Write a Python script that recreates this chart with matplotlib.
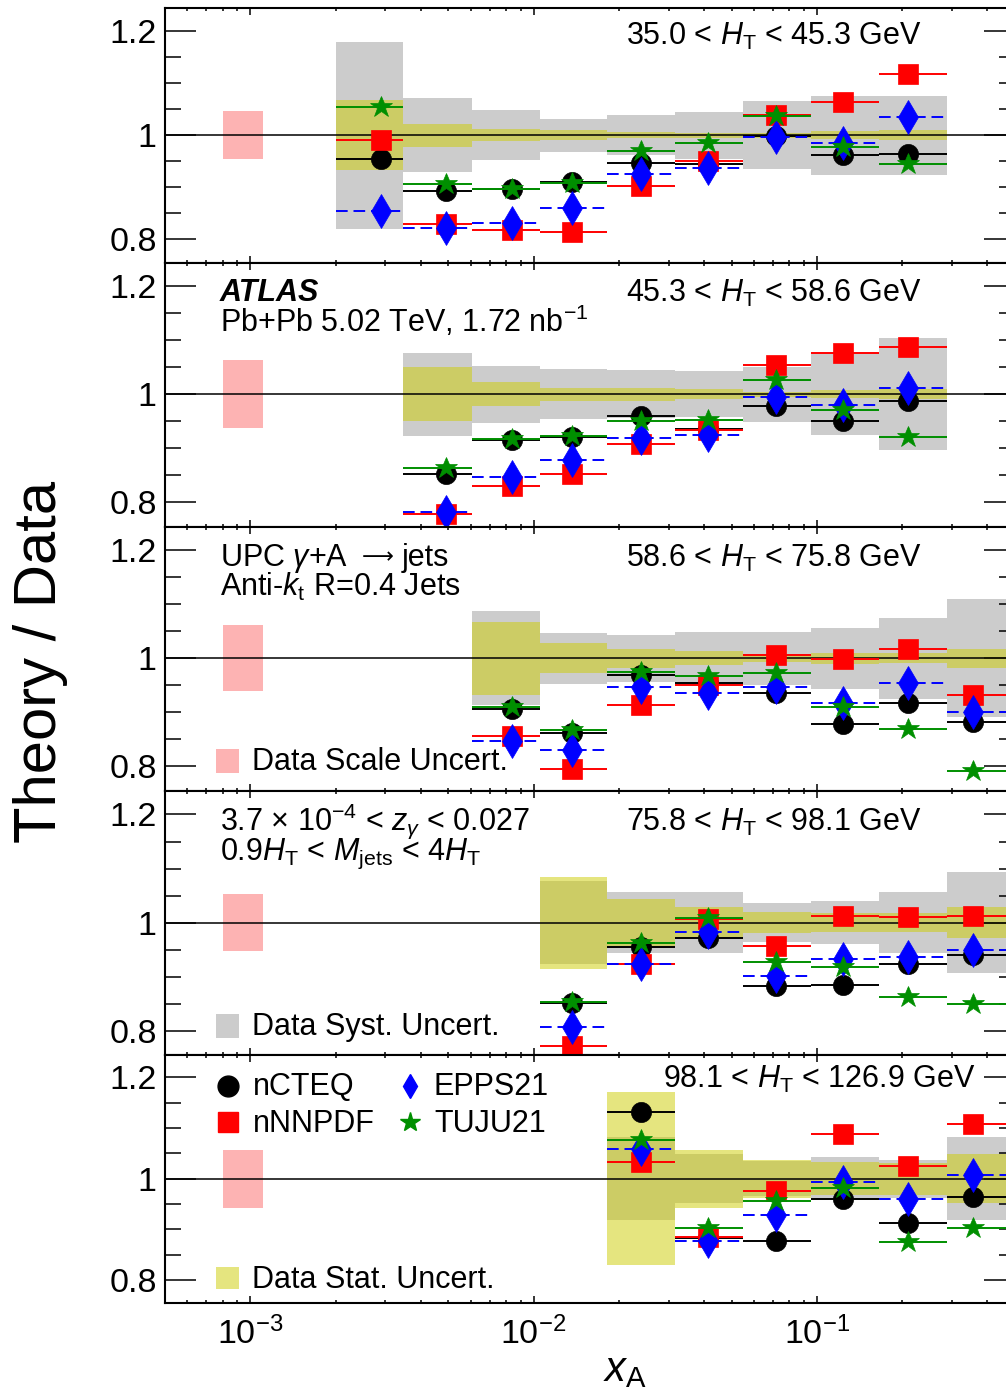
import numpy as np
import matplotlib
matplotlib.use("Agg")
import matplotlib.pyplot as plt
from matplotlib.patches import Rectangle
from matplotlib.lines import Line2D
from matplotlib.ticker import LogLocator, NullFormatter, FixedLocator, FixedFormatter, MultipleLocator

plt.rcParams['font.family'] = ['Liberation Sans', 'DejaVu Sans']
plt.rcParams['mathtext.fontset'] = 'custom'
plt.rcParams['mathtext.rm'] = 'Liberation Sans'
plt.rcParams['mathtext.it'] = 'Liberation Sans:italic'
plt.rcParams['mathtext.bf'] = 'Liberation Sans:bold'
plt.rcParams['mathtext.sf'] = 'Liberation Sans'

nan = np.nan

# ---------------- data ----------------
bin_edges = [0.002, 0.00347, 0.00604, 0.0105, 0.0182, 0.0317, 0.0550, 0.0956, 0.166, 0.288, 0.5]
xA = [0.0029, 0.0049, 0.0084, 0.0137, 0.0239, 0.0412, 0.0716, 0.124, 0.210, 0.356]

ht_labels = [r"35.0 < $H_{\mathrm{T}}$ < 45.3 GeV",
             r"45.3 < $H_{\mathrm{T}}$ < 58.6 GeV",
             r"58.6 < $H_{\mathrm{T}}$ < 75.8 GeV",
             r"75.8 < $H_{\mathrm{T}}$ < 98.1 GeV",
             r"98.1 < $H_{\mathrm{T}}$ < 126.9 GeV"]

nCTEQ_1 = [0.955, 0.893, 0.896, 0.910, 0.947, 0.944, 0.999, 0.962, 0.963, nan]
nNNPDF_1 = [0.991, 0.830, 0.818, 0.8135, 0.903, 0.951, 1.039, 1.063, 1.117, nan]
EPPS21_1 = [0.855, 0.822, 0.8315, 0.860, 0.926, 0.937, 0.996, 0.985, 1.034, nan]
TUJU21_1 = [1.054, 0.9065, 0.897, 0.907, 0.969, 0.985, 1.036, 0.977, 0.944, nan]
stat_1 = [0.067, 0.022, 0.012, 0.010, 0.006, 0.005, 0.005, 0.008, 0.009, nan]
syst_1 = [0.180, 0.071, 0.048, 0.032, 0.038, 0.045, 0.065, 0.076, 0.076, nan]

nCTEQ_2 = [nan, 0.853, 0.916, 0.921, 0.960, 0.935, 0.978, 0.950, 0.988, nan]
nNNPDF_2 = [nan, 0.778, 0.830, 0.853, 0.908, 0.934, 1.054, 1.076, 1.087, nan]
EPPS21_2 = [nan, 0.782, 0.846, 0.878, 0.919, 0.924, 0.995, 0.980, 1.011, nan]
TUJU21_2 = [nan, 0.864, 0.917, 0.923, 0.951, 0.953, 1.027, 0.970, 0.920, nan]
stat_2 = [nan, 0.050, 0.022, 0.012, 0.012, 0.009, 0.005, 0.007, 0.009, nan]
syst_2 = [nan, 0.077, 0.053, 0.046, 0.044, 0.043, 0.051, 0.075, 0.104, nan]

nCTEQ_3 = [nan, nan, 0.907, 0.862, 0.969, 0.955, 0.936, 0.878, 0.918, 0.8815]
nNNPDF_3 = [nan, nan, 0.856, 0.796, 0.913, 0.9515, 1.0055, 0.998, 1.017, 0.932]
EPPS21_3 = [nan, nan, 0.847, 0.830, 0.9466, 0.9355, 0.9466, 0.9165, 0.954, 0.900]
TUJU21_3 = [nan, nan, 0.910, 0.867, 0.9755, 0.967, 0.973, 0.909, 0.870, 0.791]
stat_3 = [nan, nan, 0.067, 0.028, 0.018, 0.013, 0.007, 0.010, 0.009, 0.018]
syst_3 = [nan, nan, 0.087, 0.047, 0.043, 0.049, 0.049, 0.057, 0.075, 0.109]

nCTEQ_4 = [nan, nan, nan, 0.851, 0.9557, 0.971, 0.882, 0.885, 0.923, 0.940]
nNNPDF_4 = [nan, nan, nan, 0.772, 0.923, 1.006, 0.956, 1.012, 1.010, 1.012]
EPPS21_4 = [nan, nan, nan, 0.807, 0.924, 0.983, 0.901, 0.9335, 0.9365, 0.949]
TUJU21_4 = [nan, nan, nan, 0.853, 0.963, 1.009, 0.927, 0.917, 0.862, 0.849]
stat_4 = [nan, nan, nan, 0.085, 0.044, 0.028, 0.019, 0.018, 0.018, 0.029]
syst_4 = [nan, nan, nan, 0.077, 0.057, 0.0566, 0.036, 0.040, 0.056, 0.094]

nCTEQ_5 = [nan, nan, nan, nan, 1.131, 0.884, 0.878, 0.960, 0.912, 0.964]
nNNPDF_5 = [nan, nan, nan, nan, 1.033, 0.886, 0.976, 1.089, 1.026, 1.1075]
EPPS21_5 = [nan, nan, nan, nan, 1.058, 0.877, 0.929, 0.993, 0.960, 1.007]
TUJU21_5 = [nan, nan, nan, nan, 1.077, 0.902, 0.956, 0.9816, 0.875, 0.903]
stat_5 = [nan, nan, nan, nan, 0.171, 0.057, 0.037, 0.033, 0.032, 0.048]
syst_5 = [nan, nan, nan, nan, 0.082, 0.048, 0.035, 0.042, 0.037, 0.082]

scale_unc = [0.046, 0.0625, 0.061, 0.053, 0.057]
scale_box_x = [8.0e-4, 1.11e-3]

nCTEQ = [nCTEQ_1, nCTEQ_2, nCTEQ_3, nCTEQ_4, nCTEQ_5]
nNNPDF = [nNNPDF_1, nNNPDF_2, nNNPDF_3, nNNPDF_4, nNNPDF_5]
EPPS21 = [EPPS21_1, EPPS21_2, EPPS21_3, EPPS21_4, EPPS21_5]
TUJU21 = [TUJU21_1, TUJU21_2, TUJU21_3, TUJU21_4, TUJU21_5]
stat = [stat_1, stat_2, stat_3, stat_4, stat_5]
syst = [syst_1, syst_2, syst_3, syst_4, syst_5]

# ---------------- styles ----------------
W, H = 1006, 1397
fig = plt.figure(figsize=(W / 100, H / 100), dpi=100)

def fx(px):
    return px / W

def fy(py):
    return 1 - py / H

panel_px = [(8.3, 262.5), (262.5, 526.5), (526.5, 790.7), (790.7, 1055.0), (1055.0, 1303.0)]
ht_pos = [(626, 45), (626, 301.7), (626, 566.7), (626, 830.7), (663, 1088.3)]

GRAY = '#cccccc'
YEL = '#cccc00'
PINK = '#fdb3b3'
GREEN = '#008f00'
TS = 22

series = [
    ("nCTEQ", nCTEQ, dict(marker='o', color='black', ms=14.5), '-', 5),
    ("nNNPDF", nNNPDF, dict(marker='s', color='#ff0000', ms=15), '-', 6),
    ("EPPS21", EPPS21, dict(marker='d', color='#0000ff', ms=17), (0, (6, 3)), 7),
    ("TUJU21", TUJU21, dict(marker='*', color=GREEN, ms=16.5), '-', 8),
]

edges = np.array(bin_edges)
xa = np.array(xA)
lo = edges[:-1]
hi = edges[1:]

axes = []
for i, (top, bot) in enumerate(panel_px):
    ax = fig.add_axes([fx(165), fy(bot), (1014.8 - 165) / W, (bot - top) / H])
    axes.append(ax)
    ax.set_xscale('log')
    ax.set_xlim(5e-4, 0.5)
    ax.set_ylim(0.755, 1.244)

    sy = np.array(syst[i]); st = np.array(stat[i])
    m = ~np.isnan(sy)
    ax.bar(lo[m], 2 * sy[m], bottom=1 - sy[m], width=(hi - lo)[m], align='edge',
           color=GRAY, edgecolor='none', zorder=1)
    ax.bar(lo[m], 2 * st[m], bottom=1 - st[m], width=(hi - lo)[m], align='edge',
           color=YEL, alpha=0.5, edgecolor='none', zorder=2)
    ax.bar([scale_box_x[0]], [2 * scale_unc[i]], bottom=1 - scale_unc[i],
           width=[scale_box_x[1] - scale_box_x[0]], align='edge', color=PINK,
           edgecolor='none', zorder=1)
    ax.axhline(1.0, color='black', lw=1.1, zorder=3)

    for name, data, st_kw, ls, z in series:
        y = np.array(data[i])
        mm = ~np.isnan(y)
        eb = ax.errorbar(xa[mm], y[mm], xerr=[(xa - lo)[mm], (hi - xa)[mm]], fmt='none',
                         ecolor=st_kw['color'], elinewidth=1.4, capsize=0, zorder=z)
        for lc in eb[2]:
            lc.set_linestyle(ls)
        ax.plot(xa[mm], y[mm], linestyle='none', marker=st_kw['marker'], ms=st_kw['ms'],
                color=st_kw['color'], mec=st_kw['color'], mew=0.5, zorder=z + 0.5, label=name)

    # ticks
    ax.yaxis.set_major_locator(FixedLocator([0.8, 1.0, 1.2]))
    ax.yaxis.set_major_formatter(FixedFormatter(['0.8', '1', '1.2']))
    ax.yaxis.set_minor_locator(MultipleLocator(0.05))
    ax.xaxis.set_major_locator(LogLocator(base=10, numticks=10))
    ax.xaxis.set_minor_locator(LogLocator(base=10, subs=np.arange(2, 10), numticks=20))
    ax.xaxis.set_minor_formatter(NullFormatter())
    ax.tick_params(axis='both', which='both', direction='in', top=True, right=True, width=1.1)
    ax.tick_params(axis='y', which='major', length=22, labelsize=24.5, pad=6)
    ax.tick_params(axis='y', which='minor', length=11.5)
    ax.tick_params(axis='x', which='major', length=5, labelsize=24.5, pad=10)
    ax.tick_params(axis='x', which='minor', length=2.5)
    if i < 4:
        ax.tick_params(axis='x', which='both', labelbottom=False)
    for s in ax.spines.values():
        s.set_linewidth(1.5)

    fig.text(fx(ht_pos[i][0]), fy(ht_pos[i][1]), ht_labels[i], fontsize=TS,
             ha='left', va='baseline')

fig.text(fx(220), fy(300.7), "ATLAS", fontsize=TS, fontweight='bold', style='italic', va='baseline')
fig.text(fx(220), fy(331.7), r"Pb+Pb 5.02 TeV, 1.72 nb$^{-1}$", fontsize=TS, va='baseline')
fig.text(fx(220), fy(566), r"UPC $\gamma$+A", fontsize=TS, va='baseline')
fig.text(fx(362), fy(563), "⟶", fontsize=16, va='baseline', family='DejaVu Sans')
fig.text(fx(402), fy(566), "jets", fontsize=TS, va='baseline')
fig.text(fx(220), fy(596), r"Anti-$k_{\mathrm{t}}$ R=0.4 Jets", fontsize=TS, va='baseline')
fig.text(fx(220), fy(830), r"3.7 × 10$^{-4}$ < $z_{\gamma}$ < 0.027", fontsize=TS, va='baseline')
fig.text(fx(220), fy(860), r"0.9$H_{\mathrm{T}}$ < $M_{\mathrm{jets}}$ < 4$H_{\mathrm{T}}$",
         fontsize=TS, va='baseline')

# uncertainty legend boxes
unc_leg = [("Data Scale Uncert.", PINK, 749, 773.3, 770),
           ("Data Syst. Uncert.", GRAY, 1014, 1038.3, 1035),
           ("Data Stat. Uncert.", '#e5e57f', 1267, 1289, 1288.3)]
for label, col, y0, y1, yb in unc_leg:
    fig.patches.append(Rectangle((fx(216), fy(y1)), fx(239) - fx(216), fy(y0) - fy(y1),
                                 transform=fig.transFigure, facecolor=col, edgecolor='none'))
    fig.text(fx(252.5), fy(yb), label, fontsize=TS, va='baseline')

# model legend in bottom panel
leg_entries = [("nCTEQ", 'o', 'black', 15, 228, 1085.7, 252.5, 1095),
               ("nNNPDF", 's', '#ff0000', 15, 228, 1121.7, 252.5, 1131.7),
               ("EPPS21", 'd', '#0000ff', 12, 410, 1085.7, 434, 1095),
               ("TUJU21", '*', GREEN, 15, 410, 1121.7, 434, 1131.7)]
for name, mk, col, ms, mx, my, tx, tyb in leg_entries:
    fig.add_artist(Line2D([fx(mx)], [fy(my)], ls='none', marker=mk, color=col, ms=ms,
                          transform=fig.transFigure))
    fig.text(fx(tx), fy(tyb), name, fontsize=TS, va='baseline')

fig.text(fx(41), fy(662), "Theory / Data", fontsize=43, rotation=90, ha='center', va='center')
fig.text(fx(625), fy(1381), r"$x_{\mathrm{A}}$", fontsize=30, ha='center', va='baseline')

fig.savefig("out.png", dpi=100)
